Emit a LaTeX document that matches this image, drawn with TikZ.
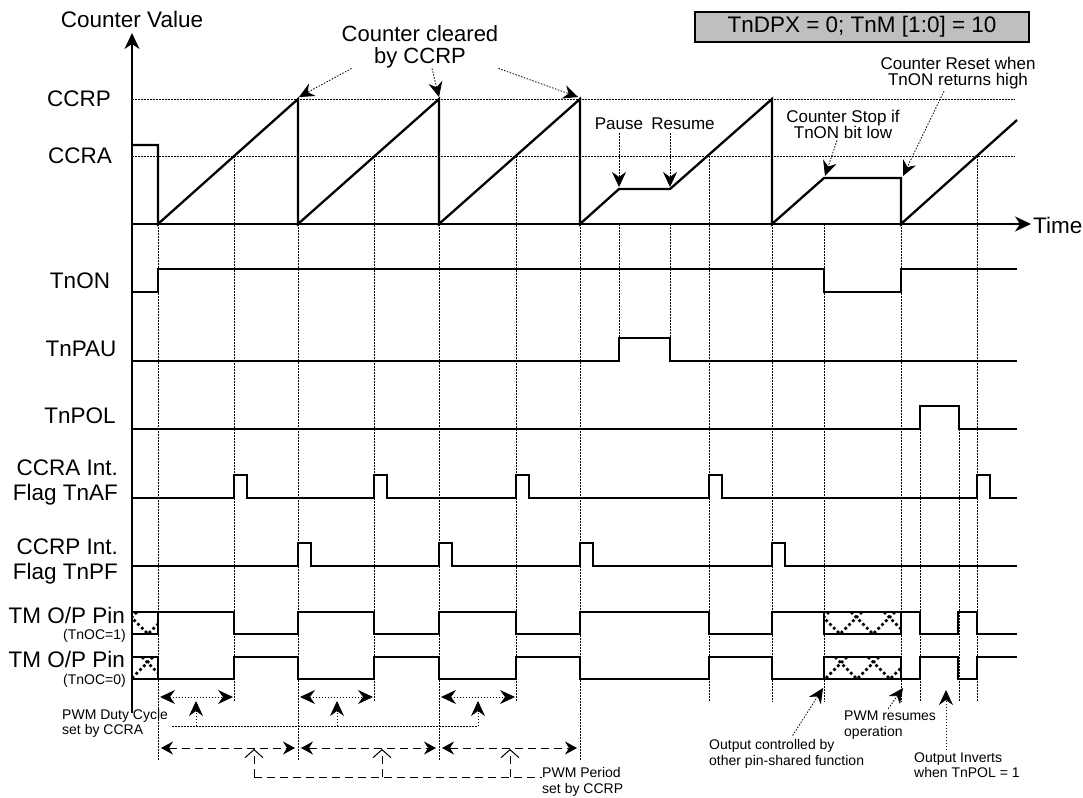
\documentclass[tikz,border=0pt]{standalone}
\usepackage{fontspec}
\setmainfont{Liberation Sans}
\usetikzlibrary{arrows.meta,positioning}

\tikzset{
  every node/.style={inner sep=0pt},
  big/.style={font=\fontsize{22.5}{25}\selectfont},
  mid/.style={font=\fontsize{17}{16}\selectfont, align=center},
  tiny/.style={font=\fontsize{14}{15.5}\selectfont, align=left},
  axis/.style={line width=2pt, -{Stealth[length=16pt,width=15pt,inset=5pt]}},
  counter/.style={line width=2.3pt},
  wave/.style={line width=1.4pt},
  guide/.style={line width=0.9pt, dash pattern=on 1.5pt off 1.5pt},
  hatch/.style={line width=2.7pt, dash pattern=on 2.7pt off 2.7pt},
  pointer/.style={line width=0.8pt, dash pattern=on 1.5pt off 1.5pt,
    -{Stealth[length=15pt,width=14pt,inset=5pt]}},
  dutyspan/.style={guide, {Stealth[length=15pt,width=14pt,inset=5pt]}-{Stealth[length=15pt,width=14pt,inset=5pt]}},
  periodline/.style={line width=1pt, dash pattern=on 8pt off 5pt},
  periodspan/.style={periodline, {Stealth[length=12pt,width=13pt,inset=4pt]}-{Stealth[length=12pt,width=13pt,inset=4pt]}},
  openup/.style={periodline, -{Straight Barb[length=8pt,width=18pt,line width=1pt]}}
}

% box with the hatched "don't care" level
\newcommand{\hatchbox}[5]{%
  \draw[wave] (#1,#3) rectangle (#2,#4);
  \begin{scope}
    \clip (#1,#3) rectangle (#2,#4);
    \foreach \v in {#5}
      \draw[hatch] ({\v-22},#3) -- (\v,#4) -- ({\v+22},#3);
  \end{scope}}

\begin{document}
\begin{tikzpicture}[x=1pt,y=-1pt]
  \useasboundingbox (0,0) rectangle (1083,797);

  % guide lines
  \draw[guide] (132,99) -- (1015,99);
  \draw[guide] (132,156) -- (1015,156);
  \foreach \x in {158,298,439,580}
    \draw[guide] (\x,224) -- (\x,760);
  \foreach \x in {234,374,516,709,977}
    \draw[guide] (\x,156) -- (\x,702);
  \foreach \x in {772,824,901}
    \draw[guide] (\x,224) -- (\x,702);
  \foreach \x in {619,670}
    \draw[guide] (\x,224) -- (\x,361);
  \foreach \x in {920,959}
    \draw[guide] (\x,429) -- (\x,702);

  % axes
  \draw[axis] (132,713) -- (132,33);
  \draw[axis] (132,224) -- (1031,224);
  \node[big] (cv) at (132,19) {Counter Value};
  \node[big, anchor=west] (time) at (1033,225) {Time};
  \node[big] (ccrp) at (79,99) {CCRP};
  \node[big] (ccra) at (80,156) {CCRA};

  \node[big, draw, line width=1.2pt, fill=gray!50, minimum width=334pt,
    minimum height=30pt] (mode) at (862,27) {TnDPX = 0; TnM [1:0] = 10};

  % counter
  \draw[counter] (132,145) -- (158,145) -- (158,224) -- (298,99) -- (298,224)
    -- (439,99) -- (439,224) -- (580,99) -- (580,224) -- (619,189) -- (670,189)
    -- (772,99) -- (772,224) -- (824,178) -- (901,178) -- (901,224) -- (1017,120);

  % notes on the counter
  \node[big, align=center, font=\fontsize{22}{22}\selectfont] (cleared) at (420,47)
    {Counter cleared\\by CCRP};
  \draw[pointer] ([xshift=10pt]cleared.south west) -- (299,97);
  \draw[pointer] ([xshift=12pt]cleared.south) -- (439,97);
  \draw[pointer] (cleared.south east) -- (578,97);

  \node[mid] (pause) at (619,124) {Pause};
  \node[mid] (resume) at (683,124) {Resume};
  \coordinate (pausetip) at (619,187);
  \coordinate (resumetip) at (670,187);
  \draw[pointer] ([yshift=-3pt]pause.south) -- (pausetip);
  \draw[pointer] ([yshift=-3pt]resumetip |- resume.south) -- (resumetip);

  \node[mid] (stop) at (843,124) {Counter Stop if\\TnON bit low};
  \draw[pointer] ([xshift=-6pt,yshift=-2pt]stop.south) -- (825,176);
  \node[mid] (reset) at (958,73) {Counter Reset when\\TnON returns high};
  \draw[pointer] ([xshift=-14pt,yshift=-2pt]reset.south) -- (903,176);

  % control bits
  \node[big] (tnon) at (80,281) {TnON};
  \draw[wave] (132,292) -- (158,292) -- (158,269) -- (824,269) -- (824,292)
    -- (901,292) -- (901,269) -- (1017,269);
  \node[big] (tnpau) at (81,349) {TnPAU};
  \draw[wave] (132,361) -- (619,361) -- (619,338) -- (670,338) -- (670,361) -- (1017,361);
  \node[big] (tnpol) at (80,416) {TnPOL};
  \draw[wave] (132,429) -- (920,429) -- (920,406) -- (959,406) -- (959,429) -- (1017,429);

  % interrupt flags
  \node[big, align=right, anchor=east] (tnaf) at (118,482) {CCRA Int.\\Flag TnAF};
  \draw[wave] (132,498) foreach \p in {234,374,516,709,977}
    { -- (\p,498) -- (\p,475) -- ({\p+13},475) -- ({\p+13},498) } -- (1017,498);
  \node[big, align=right, anchor=east] (tnpf) at (118,561) {CCRP Int.\\Flag TnPF};
  \draw[wave] (132,566) foreach \p in {298,439,580,772}
    { -- (\p,566) -- (\p,543) -- ({\p+13},543) -- ({\p+13},566) } -- (1017,566);

  % output pins
  \node[big, anchor=base east, text depth=0pt] (pin1) at (125,623) {TM O/P Pin};
  \node[tiny, anchor=base east] (oc1) at (126,639) {(TnOC=1)};
  \hatchbox{132}{158}{612}{634}{115,148,181}
  \draw[wave] (158,612) -- (234,612) -- (234,634) -- (298,634) -- (298,612)
    -- (374,612) -- (374,634) -- (439,634) -- (439,612) -- (516,612) -- (516,634)
    -- (580,634) -- (580,612) -- (709,612) -- (709,634) -- (772,634) -- (772,612)
    -- (824,612);
  \hatchbox{824}{901}{612}{634}{807,840,873,906}
  \draw[wave] (901,612) -- (920,612) -- (920,634) -- (958,634) -- (958,612)
    -- (977,612) -- (977,634) -- (1017,634);

  \node[big, anchor=base east, text depth=0pt] (pin0) at (125,667) {TM O/P Pin};
  \node[tiny, anchor=base east] (oc0) at (126,684) {(TnOC=0)};
  \hatchbox{132}{158}{657}{679}{131,164}
  \draw[wave] (158,679) -- (234,679) -- (234,657) -- (298,657) -- (298,679)
    -- (374,679) -- (374,657) -- (439,657) -- (439,679) -- (516,679) -- (516,657)
    -- (580,657) -- (580,679) -- (709,679) -- (709,657) -- (772,657) -- (772,679)
    -- (824,679);
  \hatchbox{824}{901}{657}{679}{792,825,857,890}
  \draw[wave] (901,679) -- (920,679) -- (920,657) -- (958,657) -- (958,679)
    -- (977,679) -- (977,657) -- (1017,657);

  % duty cycle and period
  \foreach \a/\b in {158/234,298/374,439/516}
    \draw[dutyspan] ({\a+2},697) -- ({\b-1},697);
  \node[tiny, anchor=north west] (duty) at (62,709) {PWM Duty Cycle\\set by CCRA};
  \coordinate (dutyrow) at (478,726);
  \draw[guide] ([xshift=4pt]duty.east |- dutyrow) -- (dutyrow);
  \foreach \x in {196,337,478}
    \draw[pointer] (\x,726) -- (\x,701);

  \foreach \a/\b in {158/298,298/439,439/580}
    \draw[periodspan] ({\a+3},748) -- ({\b-3},748);
  \node[tiny, anchor=west] (period) at (542,782) {PWM Period\\set by CCRP};
  \coordinate (periodrow) at (254,777);
  \draw[periodline] (periodrow) -- (period.west |- periodrow);
  \foreach \x in {254,382,510}
    \draw[openup] (\x,777) -- (\x,749);

  % notes on the outputs
  \node[tiny, anchor=west] (ctrl) at (709,754) {Output controlled by\\other pin-shared function};
  \draw[pointer] ([xshift=6pt,yshift=4pt]ctrl.north) -- (823,688);
  \node[tiny, anchor=west] (pwmres) at (844,725) {PWM resumes\\operation};
  \draw[pointer] ([xshift=-2pt,yshift=2pt]pwmres.north) -- (903,688);
  \node[tiny, anchor=west] (inv) at (914,765) {Output Inverts\\when TnPOL = 1};
  \coordinate (invtip) at (946,690);
  \draw[pointer] ([yshift=2pt]invtip |- inv.north) -- (invtip);
\end{tikzpicture}
\end{document}
